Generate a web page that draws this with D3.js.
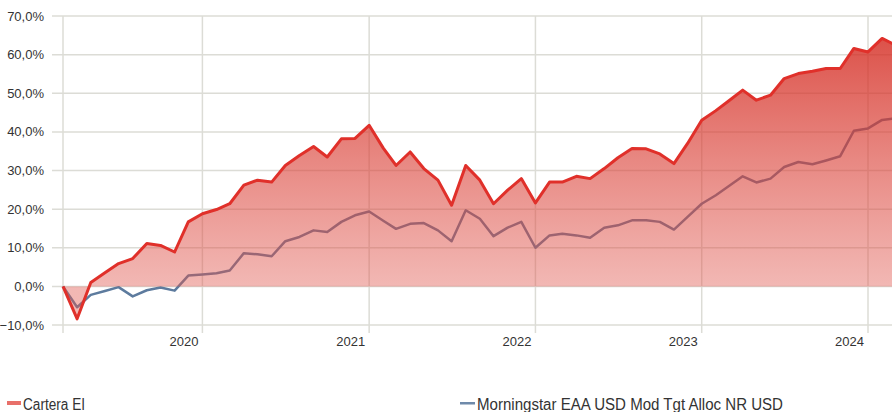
<!DOCTYPE html>
<html>
<head>
<meta charset="utf-8">
<script src="https://cdn.jsdelivr.net/npm/d3@7"></script>
<style>
  html, body { margin: 0; padding: 0; background: #fff; }
  svg { display: block; font-family: "Liberation Sans", Arial, sans-serif; }
</style>
</head>
<body>
<svg id="svg" width="892" height="412"></svg>
<script>
// monthly points, first one is March 2019
const startMonth = new Date(2019, 2, 1);

// Cartera EI, cumulative return %
const carteraEI = [
    0, -8.4, 1.0, 3.5, 5.9, 7.2, 11.1, 10.6, 8.9, 16.7,
    18.8, 19.9, 21.4, 26.2, 27.5, 27.0, 31.3, 33.9, 36.2, 33.5,
    38.2, 38.3, 41.7, 35.8, 31.3, 34.8, 30.5, 27.5, 21.0, 31.3,
    27.5, 21.4, 24.9, 27.9, 21.6, 27.0, 27.0, 28.5, 27.9, 30.5,
    33.3, 35.7, 35.6, 34.3, 31.8, 37.0, 43.0, 45.5, 48.0, 50.8,
    48.2, 49.5, 53.8, 55.1, 55.7, 56.4, 56.4, 61.6, 60.7, 64.2,
    62.5
];

// Morningstar EAA USD Mod Tgt Alloc NR USD
const benchmark = [
    0, -5.4, -2.2, -1.2, -0.2, -2.6, -1.0, -0.3, -1.1, 2.8,
    3.1, 3.4, 4.1, 8.6, 8.3, 7.8, 11.7, 12.8, 14.5, 14.1,
    16.7, 18.4, 19.4, 17.0, 14.9, 16.2, 16.4, 14.5, 11.7, 19.7,
    17.5, 13.0, 15.2, 16.7, 10.0, 13.2, 13.6, 13.2, 12.6, 15.2,
    15.8, 17.1, 17.1, 16.7, 14.7, 18.0, 21.4, 23.6, 25.9, 28.5,
    26.9, 27.9, 30.9, 32.2, 31.6, 32.6, 33.7, 40.3, 40.9, 43.1,
    43.5
];

const yTicks      = [-10, 0, 10, 20, 30, 40, 50, 60, 70];
const yearLabels  = [2020, 2021, 2022, 2023, 2024];
const seriesNames = ['Cartera EI', 'Morningstar EAA USD Mod Tgt Alloc NR USD'];

const svg = d3.select('#svg');

const dates = carteraEI.map((_, i) => d3.timeMonth.offset(startMonth, i));

const x = d3.scaleTime()
    .domain([startMonth, new Date(2024, 0, 1)])
    .range([63, 868]);

const y = d3.scaleLinear()
    .domain([-10, 70])
    .range([325, 16]);

const fmt = v => d3.format('.1f')(v).replace('.', ',') + '%';

// --- Grid ---
const grid = svg.append('g');

grid.selectAll('line.h')
    .data(yTicks).join('line')
    .attr('x1', 52).attr('x2', 892)
    .attr('y1', d => y(d)).attr('y2', d => y(d))
    .attr('stroke', '#dcdcd6')
    .attr('stroke-width', 1.5);

const vTicks = [startMonth, ...yearLabels.map(yr => new Date(yr, 0, 1))];
grid.selectAll('line.v')
    .data(vTicks).join('line')
    .attr('x1', d => x(d)).attr('x2', d => x(d))
    .attr('y1', y(70)).attr('y2', y(-10) + 8)
    .attr('stroke', '#dcdcd6')
    .attr('stroke-width', 1.5);

// --- Benchmark line (sits under the fill) ---
const line = vals => d3.line()
    .x((d, i) => x(dates[i]))
    .y(d => y(d))(vals);

svg.append('path')
    .attr('d', line(benchmark))
    .attr('fill', 'none')
    .attr('stroke', '#5d7b9e')
    .attr('stroke-width', 2.5)
    .attr('stroke-linejoin', 'round');

// --- Area ---
const grad = svg.append('defs').append('linearGradient')
    .attr('id', 'redFill')
    .attr('gradientUnits', 'userSpaceOnUse')
    .attr('x1', 0).attr('x2', 0)
    .attr('y1', y(65)).attr('y2', y(0));
grad.append('stop').attr('offset', 0).attr('stop-color', '#d42a20').attr('stop-opacity', 0.82);
grad.append('stop').attr('offset', 1).attr('stop-color', '#e0554c').attr('stop-opacity', 0.42);

const area = d3.area()
    .x((d, i) => x(dates[i]))
    .y0(y(0))
    .y1(d => y(d));

svg.append('path')
    .attr('d', area(carteraEI))
    .attr('fill', 'url(#redFill)');

svg.append('path')
    .attr('d', line(carteraEI))
    .attr('fill', 'none')
    .attr('stroke', '#e0302a')
    .attr('stroke-width', 3)
    .attr('stroke-linejoin', 'round');

// --- Axis labels ---
svg.append('g')
    .selectAll('text')
    .data(yTicks).join('text')
    .attr('x', 44)
    .attr('y', d => y(d))
    .attr('dy', '0.35em')
    .attr('text-anchor', 'end')
    .attr('font-size', 13)
    .attr('fill', '#333')
    .text(fmt);

svg.append('g')
    .selectAll('text')
    .data(yearLabels).join('text')
    .attr('x', d => x(new Date(d, 0, 1)) - 4)
    .attr('y', 341)
    .attr('dy', '0.35em')
    .attr('text-anchor', 'end')
    .attr('font-size', 13)
    .attr('fill', '#333')
    .text(d => d);

// --- Legend ---
const legend = svg.append('g')
    .attr('font-family', '"Liberation Sans Narrow", "Liberation Sans", Arial, sans-serif')
    .attr('font-size', 16)
    .attr('fill', '#333');

legend.append('rect')
    .attr('x', 7).attr('y', 401)
    .attr('width', 14).attr('height', 4)
    .attr('fill', '#e8706a');
legend.append('text')
    .attr('x', 23).attr('y', 404)
    .attr('dy', '0.35em')
    .attr('textLength', 62)
    .attr('lengthAdjust', 'spacingAndGlyphs')
    .text(seriesNames[0]);

legend.append('rect')
    .attr('x', 460).attr('y', 402)
    .attr('width', 15).attr('height', 2.5)
    .attr('fill', '#6f8aaa');
legend.append('text')
    .attr('x', 477).attr('y', 404)
    .attr('dy', '0.35em')
    .attr('textLength', 306)
    .attr('lengthAdjust', 'spacingAndGlyphs')
    .text(seriesNames[1]);
</script>
</body>
</html>
